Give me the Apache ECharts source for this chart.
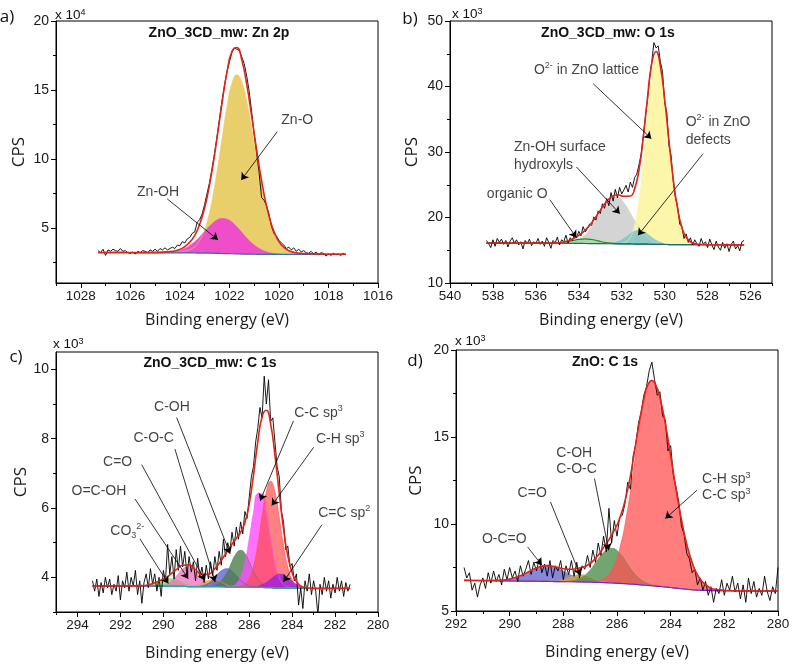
<!DOCTYPE html>
<html>
<head>
<meta charset="utf-8">
<script src="https://cdn.jsdelivr.net/npm/echarts@6/dist/echarts.min.js"></script>
<style>
html, body { margin: 0; padding: 0; background: #fff; }
#chart { width: 794px; height: 664px; }
</style>
</head>
<body>
<div id="chart"></div>
<script>
// ---------- a) ZnO_3CD_mw: Zn 2p  (x 10^4 CPS) ----------
var aX = [1027.3, 1026.5, 1025.7, 1025.0, 1024.5, 1024.1, 1023.8, 1023.5, 1023.3, 1023.1, 1022.9, 1022.7, 1022.5, 1022.3, 1022.1, 1021.9, 1021.7, 1021.5, 1021.3, 1021.1, 1020.9, 1020.7, 1020.5, 1020.3, 1020.1, 1019.9, 1019.6, 1019.2, 1018.7, 1018.1, 1017.3]
var aBg = [3.20, 3.20, 3.19, 3.19, 3.19, 3.18, 3.18, 3.18, 3.17, 3.17, 3.16, 3.16, 3.15, 3.14, 3.13, 3.12, 3.11, 3.10, 3.09, 3.09, 3.08, 3.08, 3.08, 3.07, 3.07, 3.07, 3.07, 3.07, 3.07, 3.07, 3.07]
var aZnO = [3.21, 3.22, 3.21, 3.22, 3.23, 3.24, 3.31, 3.51, 3.82, 4.42, 5.44, 7.00, 9.08, 11.46, 13.78, 15.48, 16.11, 15.60, 14.22, 12.27, 10.11, 8.08, 6.40, 5.13, 4.27, 3.74, 3.34, 3.17, 3.12, 3.10, 3.09]
var aZnOH = [3.20, 3.20, 3.19, 3.19, 3.22, 3.32, 3.51, 3.85, 4.16, 4.54, 4.94, 5.30, 5.57, 5.68, 5.63, 5.42, 5.08, 4.68, 4.27, 3.91, 3.62, 3.41, 3.26, 3.17, 3.12, 3.09, 3.07, 3.07, 3.07, 3.07, 3.07]
var aFit = [3.21, 3.22, 3.21, 3.22, 3.26, 3.38, 3.64, 4.18, 4.81, 5.79, 7.22, 9.14, 11.50, 14.00, 16.28, 17.78, 18.08, 17.18, 15.40, 13.09, 10.65, 8.41, 6.58, 5.23, 4.32, 3.76, 3.34, 3.17, 3.12, 3.10, 3.09]
// measured counts, 1027.3 eV down to 1017.3 eV in 0.1 eV steps
var aRaw = [
  3.35, 3.2, 3.45, 3.0, 3.4, 3.3, 3.45, 3.35, 3.3, 3.5,
  3.3, 3.35, 3.2, 3.15, 3.25, 3.1, 3.3, 3.2, 3.35, 3.3,
  3.2, 3.4, 3.3, 3.45, 3.3, 3.5, 3.4, 3.55, 3.4, 3.5,
  3.6, 3.5, 3.75, 3.7, 4.0, 3.9, 4.2, 4.3, 4.6, 4.7,
  5.4, 5.6, 6.0, 6.7, 7.5, 8.3, 9.3, 10.4, 11.6, 12.9,
  14.2, 15.3, 16.3, 17.0, 17.7, 18.05, 17.95, 17.85, 17.4, 16.9,
  16.0, 14.9, 13.4, 11.8, 10.4, 9.0, 7.2, 7.0, 6.6, 6.0,
  5.1, 4.6, 4.4, 4.1, 3.9, 3.75, 3.5, 3.6, 3.4, 3.55,
  3.3, 3.45, 3.25, 3.35, 3.2, 3.15, 3.3, 3.1, 3.25, 3.05,
  3.2, 3.15, 2.95, 3.1, 3.0, 3.15, 3.05, 3.1, 3.0, 3.15,
  3.05]
var aTickX = [1016, 1018, 1020, 1022, 1024, 1026, 1028]
var aMinorX = [1017, 1019, 1021, 1023, 1025, 1027, 1029]
var aTickY = [5, 10, 15, 20]
var aMinorY = [2.5, 7.5, 12.5, 17.5]
var aNotes = [
  {text: 'Zn-O', at: [1019.26, 12.81], from: [1020.07, 11.97], to: [1021.52, 8.47]},
  {text: 'Zn-OH', at: [1024.88, 7.56], from: [1024.51, 7.1], to: [1022.46, 4.13]}
]

// ---------- b) ZnO_3CD_mw: O 1s  (x 10^3 CPS) ----------
var bX = [538.3, 537.5, 536.5, 535.5, 535.0, 534.6, 534.3, 534.0, 533.7, 533.4, 533.1, 532.8, 532.5, 532.2, 531.9, 531.6, 531.4, 531.2, 531.0, 530.8, 530.6, 530.4, 530.2, 530.0, 529.8, 529.6, 529.4, 529.2, 529.0, 528.7, 528.3, 527.5, 526.3]
var bBg = [16.10, 16.10, 16.09, 16.08, 16.07, 16.06, 16.05, 16.04, 16.03, 16.02, 16.01, 16.00, 15.99, 15.98, 15.97, 15.96, 15.95, 15.94, 15.93, 15.92, 15.91, 15.90, 15.89, 15.88, 15.87, 15.86, 15.86, 15.85, 15.85, 15.85, 15.85, 15.84, 15.83]
var bLattice = [16.10, 16.10, 16.09, 16.08, 16.07, 16.06, 16.05, 16.04, 16.03, 16.02, 16.01, 16.00, 15.99, 16.00, 16.14, 17.01, 18.83, 22.52, 28.42, 35.68, 41.91, 44.40, 42.59, 37.81, 31.67, 25.84, 21.39, 18.53, 17.00, 16.10, 15.87, 15.84, 15.83]
var bHydroxyl = [16.10, 16.10, 16.09, 16.08, 16.08, 16.14, 16.29, 16.65, 17.38, 18.58, 20.17, 21.81, 22.95, 23.12, 22.25, 20.69, 19.55, 18.50, 17.63, 16.97, 16.52, 16.23, 16.06, 15.96, 15.90, 15.86, 15.86, 15.85, 15.85, 15.85, 15.85, 15.84, 15.83]
var bDefect = [16.10, 16.10, 16.09, 16.08, 16.07, 16.06, 16.05, 16.04, 16.03, 16.02, 16.01, 16.02, 16.07, 16.29, 16.79, 17.50, 17.89, 18.04, 17.87, 17.46, 16.96, 16.51, 16.20, 16.01, 15.92, 15.86, 15.86, 15.85, 15.85, 15.85, 15.85, 15.84, 15.83]
var bOrganic = [16.10, 16.10, 16.09, 16.09, 16.13, 16.28, 16.47, 16.66, 16.73, 16.64, 16.43, 16.22, 16.08, 16.01, 15.98, 15.96, 15.95, 15.94, 15.93, 15.92, 15.91, 15.90, 15.89, 15.88, 15.87, 15.86, 15.86, 15.85, 15.85, 15.85, 15.85, 15.84, 15.83]
var bFit = [16.10, 16.10, 16.09, 16.09, 16.14, 16.36, 16.71, 17.27, 18.08, 19.20, 20.59, 22.05, 23.12, 23.48, 23.25, 23.28, 24.37, 27.18, 32.06, 38.27, 43.57, 45.34, 43.07, 38.02, 31.75, 25.84, 21.39, 18.53, 17.00, 16.10, 15.87, 15.84, 15.83]
// 538.3 eV down to 526.3 eV in 0.1 eV steps
var bRaw = [
  16.5, 16.0, 15.4, 16.6, 15.6, 16.8, 16.2, 16.7, 15.9, 16.5,
  15.5, 16.4, 16.9, 16.1, 16.6, 15.8, 16.3, 15.2, 16.5, 16.0,
  16.7, 15.7, 16.3, 16.0, 16.8, 15.9, 16.4, 15.6, 16.9, 16.2,
  15.3, 16.5, 16.1, 17.0, 15.8, 16.6, 16.3, 17.3, 16.1, 16.9,
  16.5, 17.4, 16.9, 17.9, 17.2, 18.6, 17.8, 18.3, 19.0, 18.8,
  20.1, 19.6, 21.0, 20.6, 22.1, 21.4, 22.9, 21.8, 23.8, 22.5,
  24.3, 23.0, 24.6, 23.6, 24.2, 24.9, 23.9, 25.4, 24.6, 26.1,
  26.6, 28.0, 29.6, 32.4, 35.3, 38.0, 41.2, 43.8, 46.7, 45.9,
  46.2, 43.8, 42.3, 37.6, 36.0, 31.0, 29.4, 25.5, 23.0, 21.8,
  19.0, 18.6, 16.8, 17.5, 16.2, 16.9, 15.8, 16.6, 16.0, 15.6,
  16.8, 15.9, 16.3, 15.4, 16.7, 15.8, 15.1, 16.4, 15.5, 15.0,
  16.2, 15.3, 16.0, 14.8, 15.9, 16.4, 15.2, 15.7, 14.9, 16.3,
  16.5]
var bTickX = [526, 528, 530, 532, 534, 536, 538, 540]
var bMinorX = [525, 527, 529, 531, 533, 535, 537, 539]
var bTickY = [10, 20, 30, 40, 50]
var bMinorY = [15, 25, 35, 45]
var bNotes = [
  {text: 'O{sup|2-} in ZnO lattice', at: [533.64, 42.47], from: [533.33, 40.43], to: [530.62, 32.04]},
  {text: 'Zn-OH surface\nhydroxyls', at: [537.02, 29.36], align: 'left', from: [534.11, 27.71], to: [532.09, 20.58]},
  {text: 'O{sup|2-} in ZnO\ndefects', at: [529.02, 33.23], align: 'left', from: [528.21, 29.75], to: [531.24, 17.28]},
  {text: 'organic O', at: [536.87, 23.64], from: [535.35, 22.72], to: [534.11, 16.92]}
]

// ---------- c) ZnO_3CD_mw: C 1s  (x 10^3 CPS) ----------
var cX = [293.3, 292.0, 291.0, 290.6, 290.3, 290.0, 289.7, 289.4, 289.1, 288.8, 288.5, 288.2, 287.9, 287.6, 287.3, 287.0, 286.8, 286.6, 286.4, 286.2, 286.0, 285.8, 285.6, 285.4, 285.2, 285.0, 284.8, 284.6, 284.4, 284.2, 284.0, 283.8, 283.5, 283.0, 282.0, 281.3]
var cBg = [3.75, 3.75, 3.75, 3.75, 3.75, 3.74, 3.74, 3.74, 3.74, 3.73, 3.73, 3.73, 3.73, 3.73, 3.73, 3.72, 3.72, 3.72, 3.72, 3.72, 3.71, 3.71, 3.71, 3.71, 3.70, 3.70, 3.69, 3.69, 3.69, 3.69, 3.69, 3.69, 3.68, 3.68, 3.68, 3.68]
var cCO3 = [3.75, 3.75, 3.76, 3.80, 3.86, 3.93, 3.96, 3.93, 3.85, 3.78, 3.74, 3.73, 3.73, 3.73, 3.73, 3.72, 3.72, 3.72, 3.72, 3.72, 3.71, 3.71, 3.71, 3.71, 3.70, 3.70, 3.69, 3.69, 3.69, 3.69, 3.69, 3.69, 3.68, 3.68, 3.68, 3.68]
var cOCOH = [3.75, 3.75, 3.75, 3.75, 3.76, 3.77, 3.85, 4.03, 4.24, 4.31, 4.17, 3.95, 3.80, 3.75, 3.73, 3.72, 3.72, 3.72, 3.72, 3.72, 3.71, 3.71, 3.71, 3.71, 3.70, 3.70, 3.69, 3.69, 3.69, 3.69, 3.69, 3.69, 3.68, 3.68, 3.68, 3.68]
var cCO = [3.75, 3.75, 3.75, 3.75, 3.75, 3.74, 3.74, 3.74, 3.74, 3.74, 3.76, 3.83, 3.91, 3.93, 3.86, 3.77, 3.74, 3.73, 3.72, 3.72, 3.71, 3.71, 3.71, 3.71, 3.70, 3.70, 3.69, 3.69, 3.69, 3.69, 3.69, 3.69, 3.68, 3.68, 3.68, 3.68]
var cCOC = [3.75, 3.75, 3.75, 3.75, 3.75, 3.74, 3.74, 3.74, 3.74, 3.73, 3.73, 3.76, 3.83, 4.00, 4.19, 4.25, 4.18, 4.05, 3.92, 3.82, 3.75, 3.73, 3.71, 3.71, 3.70, 3.70, 3.69, 3.69, 3.69, 3.69, 3.69, 3.69, 3.68, 3.68, 3.68, 3.68]
var cCOH = [3.75, 3.75, 3.75, 3.75, 3.75, 3.74, 3.74, 3.74, 3.74, 3.73, 3.73, 3.73, 3.74, 3.77, 3.90, 4.18, 4.46, 4.69, 4.78, 4.69, 4.45, 4.17, 3.96, 3.82, 3.74, 3.71, 3.69, 3.69, 3.69, 3.69, 3.69, 3.69, 3.68, 3.68, 3.68, 3.68]
var cCC = [3.75, 3.75, 3.75, 3.75, 3.75, 3.74, 3.74, 3.74, 3.74, 3.73, 3.73, 3.73, 3.73, 3.73, 3.73, 3.73, 3.75, 3.82, 4.01, 4.43, 5.10, 5.87, 6.41, 6.41, 5.86, 5.09, 4.40, 3.98, 3.79, 3.72, 3.70, 3.69, 3.68, 3.68, 3.68, 3.68]
var cCH = [3.75, 3.75, 3.75, 3.75, 3.75, 3.74, 3.74, 3.74, 3.74, 3.73, 3.73, 3.73, 3.73, 3.73, 3.73, 3.72, 3.72, 3.72, 3.74, 3.80, 3.95, 4.31, 4.93, 5.75, 6.47, 6.77, 6.46, 5.73, 4.91, 4.29, 3.93, 3.77, 3.69, 3.68, 3.68, 3.68]
var cCCsp2 = [3.75, 3.75, 3.75, 3.75, 3.75, 3.74, 3.74, 3.74, 3.74, 3.73, 3.73, 3.73, 3.73, 3.73, 3.73, 3.72, 3.72, 3.72, 3.72, 3.72, 3.71, 3.72, 3.74, 3.79, 3.85, 3.95, 4.04, 4.09, 4.07, 3.99, 3.89, 3.80, 3.71, 3.68, 3.68, 3.68]
var cFit = [3.75, 3.75, 3.76, 3.80, 3.87, 3.95, 4.07, 4.22, 4.35, 4.36, 4.22, 4.08, 4.09, 4.25, 4.49, 4.77, 4.96, 5.13, 5.30, 5.58, 6.11, 6.95, 7.91, 8.63, 8.82, 8.42, 7.52, 6.42, 5.39, 4.61, 4.13, 3.88, 3.72, 3.68, 3.68, 3.68]
// 293.3 eV down to 281.3 eV in 0.1 eV steps
var cRaw = [
  3.9, 3.6, 3.95, 3.45, 3.85, 3.55, 4.0, 3.7, 3.95, 3.5,
  3.8, 3.6, 4.05, 3.35, 3.9, 3.7, 4.15, 3.6, 4.0, 3.75,
  4.2, 3.5, 3.9, 3.25, 3.85, 4.1, 3.7, 4.25, 3.8, 4.1,
  3.6, 4.0, 3.45, 4.2, 3.9, 4.95, 4.1, 4.6, 3.95, 4.8,
  4.2, 4.9, 4.3, 4.75, 4.05, 4.6, 4.15, 4.45, 3.9, 4.55,
  4.0, 4.3, 3.85, 4.35, 3.95, 4.45, 4.05, 4.6, 4.2, 4.75,
  4.35, 5.1, 4.6, 5.0, 4.75, 5.3, 4.9, 5.45, 5.1, 5.6,
  5.25, 5.9, 5.7, 6.3, 6.9, 7.2, 7.9, 8.3, 8.9, 8.6,
  9.8, 9.0, 9.7, 8.5, 8.6, 7.9, 7.2, 6.9, 5.9, 5.6,
  4.8, 4.9, 4.3, 4.4, 3.9, 4.1, 3.2, 3.7, 3.1, 3.9,
  3.6, 4.1, 3.5, 3.9, 3.6, 2.9, 3.8, 3.5, 4.0, 3.6,
  3.9, 3.4, 3.8, 3.55, 4.0, 3.6, 3.9, 3.45, 3.85, 3.6,
  3.8]
var cTickX = [280, 282, 284, 286, 288, 290, 292, 294]
var cMinorX = [281, 283, 285, 287, 289, 291, 293, 295]
var cTickY = [4, 6, 8, 10]
var cMinorY = [3, 5, 7, 9]
var cNotes = [
  {text: 'C-OH', at: [289.6, 8.92], from: [289.38, 8.61], to: [286.89, 4.68]},
  {text: 'C-O-C', at: [290.45, 8.02], from: [289.46, 7.7], to: [287.59, 3.87]},
  {text: 'C=O', at: [292.13, 7.32], from: [291.01, 7.25], to: [288.06, 3.91]},
  {text: 'O=C-OH', at: [293.0, 6.48], from: [291.32, 6.26], to: [288.84, 3.96]},
  {text: 'CO{sub|3}{sup|2-}', at: [291.68, 5.33], from: [291.09, 5.11], to: [289.77, 3.82]},
  {text: 'C-C sp{sup|3}', at: [282.77, 8.73], from: [283.94, 8.51], to: [285.49, 6.21]},
  {text: 'C-H sp{sup|3}', at: [281.76, 8.0], from: [283.0, 7.75], to: [284.95, 6.07]},
  {text: 'C=C sp{sup|2}', at: [281.57, 5.85], from: [282.61, 5.52], to: [284.4, 3.87]}
]

// ---------- d) ZnO: C 1s  (x 10^3 CPS) ----------
var dX = [291.7, 291.0, 290.5, 290.0, 289.6, 289.2, 288.9, 288.6, 288.3, 288.0, 287.7, 287.4, 287.1, 286.8, 286.5, 286.2, 285.9, 285.6, 285.4, 285.2, 285.0, 284.85, 284.7, 284.55, 284.4, 284.2, 284.0, 283.8, 283.6, 283.4, 283.2, 283.0, 282.7, 282.3, 281.5, 280.0]
var dBg = [6.76, 6.75, 6.74, 6.73, 6.72, 6.72, 6.71, 6.70, 6.69, 6.68, 6.68, 6.67, 6.66, 6.65, 6.63, 6.61, 6.59, 6.56, 6.54, 6.52, 6.49, 6.47, 6.45, 6.43, 6.41, 6.38, 6.35, 6.31, 6.28, 6.25, 6.22, 6.20, 6.18, 6.17, 6.16, 6.15]
var dOCO = [6.76, 6.75, 6.76, 6.84, 7.03, 7.33, 7.53, 7.60, 7.51, 7.29, 7.05, 6.86, 6.74, 6.68, 6.64, 6.61, 6.59, 6.56, 6.54, 6.52, 6.49, 6.47, 6.45, 6.43, 6.41, 6.38, 6.35, 6.31, 6.28, 6.25, 6.22, 6.20, 6.18, 6.17, 6.16, 6.15]
var dCO = [6.76, 6.75, 6.74, 6.73, 6.72, 6.72, 6.71, 6.71, 6.72, 6.81, 6.98, 7.09, 7.01, 6.83, 6.69, 6.62, 6.59, 6.56, 6.54, 6.52, 6.49, 6.47, 6.45, 6.43, 6.41, 6.38, 6.35, 6.31, 6.28, 6.25, 6.22, 6.20, 6.18, 6.17, 6.16, 6.15]
var dCOH = [6.76, 6.75, 6.74, 6.73, 6.72, 6.72, 6.71, 6.70, 6.69, 6.69, 6.73, 6.86, 7.19, 7.76, 8.36, 8.61, 8.32, 7.67, 7.24, 6.91, 6.68, 6.57, 6.50, 6.45, 6.42, 6.38, 6.35, 6.31, 6.28, 6.25, 6.22, 6.20, 6.18, 6.17, 6.16, 6.15]
var dCH = [6.76, 6.75, 6.74, 6.73, 6.72, 6.72, 6.71, 6.70, 6.69, 6.68, 6.68, 6.67, 6.67, 6.70, 6.85, 7.34, 8.58, 10.89, 12.96, 15.15, 17.01, 17.90, 18.20, 17.95, 17.25, 15.78, 13.93, 12.00, 10.26, 8.84, 7.79, 7.08, 6.51, 6.24, 6.16, 6.15]
var dFit = [6.76, 6.75, 6.76, 6.84, 7.03, 7.33, 7.53, 7.61, 7.54, 7.43, 7.40, 7.47, 7.63, 8.02, 8.64, 9.36, 10.31, 12.00, 13.66, 15.54, 17.20, 18.00, 18.25, 17.97, 17.26, 15.78, 13.93, 12.00, 10.26, 8.84, 7.79, 7.08, 6.51, 6.24, 6.16, 6.15]
// 291.7 eV down to 280.0 eV in 0.1 eV steps
var dRaw = [
  7.5, 6.9, 7.2, 6.2, 6.6, 5.8, 6.5, 6.9, 6.3, 7.2,
  6.6, 7.3, 6.7, 7.1, 6.5, 7.4, 6.8, 7.5, 6.9, 7.3,
  6.7, 7.6, 7.0, 7.4, 7.9, 7.1, 7.8, 7.3, 8.0, 7.2,
  7.7, 7.0, 7.9, 6.9, 7.6, 7.3, 7.9, 6.8, 7.6, 7.1,
  7.9, 7.0, 7.8, 6.9, 7.6, 7.4, 8.2, 7.5, 8.5, 7.8,
  8.9, 8.2, 9.3, 8.4, 10.9, 8.9, 10.2, 9.3, 10.4, 10.5,
  11.2, 12.4, 12.0, 13.9, 14.6, 15.8, 16.4, 17.4, 17.9, 18.8,
  19.3, 18.3, 17.4, 17.6, 16.2, 16.0, 14.2, 14.5, 12.8, 12.1,
  11.3, 9.9, 9.4, 8.3, 8.0, 7.2, 7.4, 6.5, 6.9, 6.2,
  6.7, 5.9, 6.4, 5.5, 6.3, 6.0, 6.8, 5.9, 6.6, 6.2,
  7.0, 6.1, 6.6, 5.7, 6.5, 5.5, 6.9, 6.0, 6.7, 5.8,
  6.3, 5.9, 7.0, 6.1, 5.6, 6.4, 6.0, 7.5]
var dTickX = [280, 282, 284, 286, 288, 290, 292]
var dMinorX = [281, 283, 285, 287, 289, 291]
var dTickY = [5, 10, 15, 20]
var dMinorY = [7.5, 12.5, 17.5]
var dNotes = [
  {text: 'C-OH\nC-O-C', at: [288.26, 13.6], align: 'left', from: [286.84, 12.61], to: [286.31, 8.49]},
  {text: 'C=O', at: [289.16, 11.79], from: [288.48, 11.27], to: [287.37, 7.05]},
  {text: 'O-C=O', at: [290.2, 9.12], from: [289.33, 8.68], to: [288.8, 7.63]},
  {text: 'C-H sp{sup|3}\nC-C sp{sup|3}', at: [282.83, 12.11], align: 'left', from: [283.02, 11.94], to: [284.2, 10.31]}
]

var LABEL_FONT = '"Liberation Sans", Arial, sans-serif'
var NAME_FONT = '"Open Sans", "Liberation Sans", sans-serif'

var supRich = {
    sup: {fontSize: 9, verticalAlign: 'top', lineHeight: 9, fontFamily: LABEL_FONT, color: '#111'},
    sub: {fontSize: 9, verticalAlign: 'bottom', lineHeight: 9, fontFamily: LABEL_FONT, color: '#111'}
}

var makeRaw = function(start, step, vals) {
    return vals.map(function(v, i) {
        return [Math.round((start - i * step) * 100) / 100, v]
    })
}
var pairs = function(xs, ys) {
    return xs.map(function(x, i) { return [x, ys[i]] })
}
// stacked rows keep y first so that the stack runs on y, not on x
var yFirst = function(xs, ys) {
    return xs.map(function(x, i) { return [ys[i], x] })
}
var plain = function(v) { return String(v) }

var panels = [{
    grid: {left: 56, top: 21, width: 322, height: 262},
    xMin: 1016, xMax: 1029, yMin: 1, yMax: 20,
    xTicks: aTickX, xMinor: aMinorX, yTicks: aTickY, yMinor: aMinorY,
    xNameGap: 29, yNameGap: 28,
    xs: aX, bg: aBg, bgColor: '#2f6db5',
    comps: [
        {values: aZnO, color: '#e9cf6b', opacity: 1},
        {values: aZnOH, color: '#ee4fc9', opacity: 1}
    ],
    fit: aFit, raw: makeRaw(1027.3, 0.1, aRaw), notes: aNotes, noteLine: 18
}, {
    grid: {left: 450, top: 21, width: 322, height: 262},
    xMin: 525, xMax: 540, yMin: 10, yMax: 50,
    xTicks: bTickX, xMinor: bMinorX, yTicks: bTickY, yMinor: bMinorY,
    xNameGap: 29, yNameGap: 29,
    xs: bX, bg: bBg, bgColor: '#1f6b6b',
    comps: [
        {values: bHydroxyl, color: '#d4d4d4', opacity: 1},
        {values: bLattice, color: '#fbf5a4', opacity: 0.95},
        {values: bDefect, color: '#7fc3cc', opacity: 0.85},
        {values: bOrganic, color: '#9ad89a', opacity: 0.7, edge: '#1f8f1f', edgeWidth: 1.2}
    ],
    fit: bFit, raw: makeRaw(538.3, 0.1, bRaw), notes: bNotes, noteLine: 18
}, {
    grid: {left: 56, top: 352, width: 322, height: 260},
    xMin: 280, xMax: 295, yMin: 3, yMax: 10.5,
    xTicks: cTickX, xMinor: cMinorX, yTicks: cTickY, yMinor: cMinorY,
    xNameGap: 33, yNameGap: 24,
    xs: cX, bg: cBg, bgColor: '#26a3ad',
    comps: [
        {values: cCO3, color: '#7ede55', opacity: 0.8},
        {values: cOCOH, color: '#f06cc0', opacity: 0.75},
        {values: cCO, color: '#f0a035', opacity: 0.8},
        {values: cCOC, color: '#5858cf', opacity: 0.75},
        {values: cCOH, color: '#4d7d4d', opacity: 0.8},
        {values: cCC, color: '#ff4dff', opacity: 0.8},
        {values: cCH, color: '#ff4b4b', opacity: 0.7},
        {values: cCCsp2, color: '#9a1fe0', opacity: 0.8}
    ],
    fit: cFit, raw: makeRaw(293.3, 0.1, cRaw), notes: cNotes, noteLine: 18
}, {
    grid: {left: 456, top: 350, width: 322, height: 261},
    xMin: 280, xMax: 292, yMin: 5, yMax: 20,
    xTicks: dTickX, xMinor: dMinorX, yTicks: dTickY, yMinor: dMinorY,
    xNameGap: 33, yNameGap: 31,
    xs: dX, bg: dBg, bgColor: '#7a1fd6',
    comps: [
        {values: dOCO, color: '#6a6ad2', opacity: 0.8},
        {values: dCO, color: '#d9a032', opacity: 0.85},
        {values: dCOH, color: '#4f8f4f', opacity: 0.8},
        {values: dCH, color: '#ff5252', opacity: 0.75}
    ],
    fit: dFit, raw: makeRaw(291.7, 0.1, dRaw), notes: dNotes, noteLine: 16
}]

var grids = [], xAxes = [], yAxes = [], series = []

panels.forEach(function(p, i) {
    grids.push(Object.assign({show: true, borderColor: '#000', borderWidth: 1, containLabel: false}, p.grid))
    var ax = 2 * i
    // main axes with labels and major ticks
    xAxes.push({
        gridIndex: i, type: 'value', min: p.xMin, max: p.xMax, inverse: true, position: 'bottom',
        axisLine: {onZero: false, lineStyle: {color: '#000', width: 1}},
        axisTick: {customValues: p.xTicks, length: 5, lineStyle: {color: '#000'}},
        axisLabel: {customValues: p.xTicks, formatter: plain, fontSize: 13.5, color: '#1a1a1a', margin: 6, fontFamily: LABEL_FONT},
        splitLine: {show: false},
        name: 'Binding energy (eV)', nameLocation: 'middle', nameGap: p.xNameGap,
        nameTextStyle: {fontSize: 16, fontFamily: NAME_FONT, color: '#1a1a1a'}
    })
    yAxes.push({
        gridIndex: i, type: 'value', min: p.yMin, max: p.yMax, position: 'left',
        axisLine: {onZero: false, show: true, lineStyle: {color: '#000', width: 1}},
        axisTick: {show: true, customValues: p.yTicks, length: 5, lineStyle: {color: '#000'}},
        axisLabel: {customValues: p.yTicks, formatter: plain, fontSize: 14, color: '#1a1a1a', margin: 7, fontFamily: LABEL_FONT},
        splitLine: {show: false},
        name: 'CPS', nameLocation: 'middle', nameGap: p.yNameGap,
        nameTextStyle: {fontSize: 17, fontFamily: NAME_FONT, color: '#1a1a1a'}
    })
    // second axes carry the short minor ticks
    xAxes.push({
        gridIndex: i, type: 'value', min: p.xMin, max: p.xMax, inverse: true, position: 'bottom',
        axisLine: {show: false}, axisLabel: {show: false}, splitLine: {show: false},
        axisTick: {show: true, customValues: p.xMinor, length: 3, lineStyle: {color: '#000'}}
    })
    yAxes.push({
        gridIndex: i, type: 'value', min: p.yMin, max: p.yMax, position: 'left',
        axisLine: {show: false}, axisLabel: {show: false}, splitLine: {show: false},
        axisTick: {show: true, customValues: p.yMinor, length: 3, lineStyle: {color: '#000'}}
    })

    // fitted components, each filled down to the background via a stack
    p.comps.forEach(function(c, k) {
        var stackName = 'p' + i + 'c' + k
        series.push({
            type: 'line', xAxisIndex: ax, yAxisIndex: ax, stack: stackName,
            encode: {x: 1, y: 0},
            data: yFirst(p.xs, p.bg), symbol: 'none', smooth: true, silent: true,
            lineStyle: {opacity: 0}
        })
        series.push({
            type: 'line', xAxisIndex: ax, yAxisIndex: ax, stack: stackName,
            encode: {x: 1, y: 0},
            data: p.xs.map(function(x, j) { return [Math.max(0, c.values[j] - p.bg[j]), x] }),
            symbol: 'none', smooth: true, silent: true,
            lineStyle: {color: c.edge || c.color, width: c.edgeWidth || 0.6},
            areaStyle: {color: c.color, opacity: c.opacity}
        })
    })
    // background
    series.push({
        type: 'line', xAxisIndex: ax, yAxisIndex: ax, data: pairs(p.xs, p.bg),
        symbol: 'none', smooth: true, silent: true,
        lineStyle: {color: p.bgColor, width: 1.2}
    })
    // measured data
    series.push({
        type: 'line', xAxisIndex: ax, yAxisIndex: ax, data: p.raw,
        symbol: 'none', silent: true,
        lineStyle: {color: '#000', width: 0.9}
    })
    // envelope
    series.push({
        type: 'line', xAxisIndex: ax, yAxisIndex: ax, data: pairs(p.xs, p.fit),
        symbol: 'none', smooth: true, silent: true,
        lineStyle: {color: '#e2231a', width: 1.6}
    })
    // annotations
    series.push({
        type: 'scatter', xAxisIndex: ax, yAxisIndex: ax, symbolSize: 1, silent: true,
        itemStyle: {color: 'rgba(0,0,0,0)'},
        label: {
            show: true, position: 'inside', color: '#111', fontSize: 14,
            fontFamily: LABEL_FONT, lineHeight: p.noteLine, rich: supRich
        },
        data: p.notes.map(function(n) {
            return {value: n.at, label: {formatter: n.text, align: n.align || 'center'}}
        }),
        markLine: {
            silent: true, symbol: ['none', 'arrow'], symbolSize: 7, animation: false,
            lineStyle: {color: '#000', width: 0.8, type: 'solid'},
            label: {show: false}, emphasis: {disabled: true},
            data: p.notes.map(function(n) { return [{coord: n.from}, {coord: n.to}] })
        }
    })
})

var txt = function(x, y, text, opt) {
    return {
        type: 'text', x: x, y: y, silent: true,
        style: Object.assign({
            text: text, fill: '#111', fontSize: 13.5, fontFamily: LABEL_FONT,
            align: 'left', verticalAlign: 'middle', rich: supRich
        }, opt || {})
    }
}

var graphics = [
    txt(7, 17, 'a)', {fontSize: 17, fontFamily: NAME_FONT, align: 'center'}),
    txt(410, 19, 'b)', {fontSize: 17, fontFamily: NAME_FONT, align: 'center'}),
    txt(16, 357, 'c)', {fontSize: 17, fontFamily: NAME_FONT, align: 'center'}),
    txt(415, 361, 'd)', {fontSize: 17, fontFamily: NAME_FONT, align: 'center'}),
    txt(219, 33, 'ZnO_3CD_mw: Zn 2p', {fontSize: 14, fontWeight: 'bold', align: 'center'}),
    txt(608, 33, 'ZnO_3CD_mw: O 1s', {fontSize: 14, fontWeight: 'bold', align: 'center'}),
    txt(210, 363, 'ZnO_3CD_mw: C 1s', {fontSize: 14, fontWeight: 'bold', align: 'center'}),
    txt(605, 362, 'ZnO: C 1s', {fontSize: 14, fontWeight: 'bold', align: 'center'}),
    txt(55, 15, 'x 10{sup|4}'),
    txt(452, 14, 'x 10{sup|3}'),
    txt(53, 344, 'x 10{sup|3}'),
    txt(455, 341, 'x 10{sup|3}')
]

var chart = echarts.init(document.getElementById('chart'), null, {renderer: 'canvas'})
chart.setOption({
    animation: false,
    backgroundColor: '#fff',
    textStyle: {fontFamily: LABEL_FONT},
    grid: grids,
    xAxis: xAxes,
    yAxis: yAxes,
    series: series,
    graphic: graphics
})
</script>
</body>
</html>
